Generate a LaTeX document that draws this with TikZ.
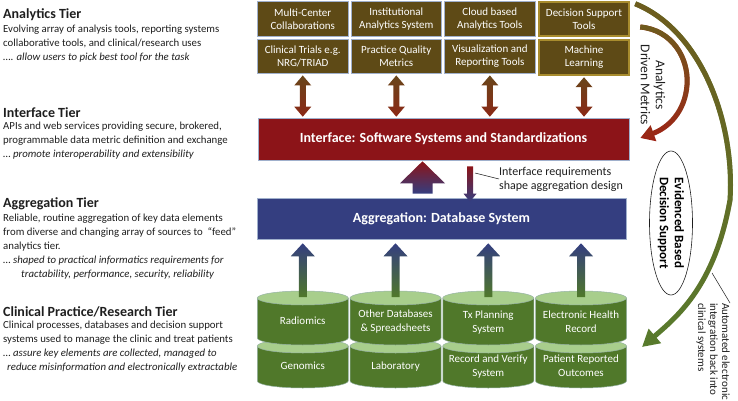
\documentclass[tikz,border=0pt]{standalone}
\usepackage{fontspec}
\setmainfont{Carlito}
\usetikzlibrary{positioning,calc,arrows.meta,shapes.geometric,fadings}

\definecolor{toolbrown}{RGB}{94,74,22}
\definecolor{toolline}{RGB}{160,176,204}
\definecolor{toolgold}{RGB}{168,140,46}
\definecolor{ifacered}{RGB}{140,20,24}
\definecolor{aggrblue}{RGB}{52,62,128}
\definecolor{cyldark}{RGB}{80,120,42}
\definecolor{cyllight}{RGB}{168,206,140}
\definecolor{cylline}{RGB}{150,178,165}
\definecolor{arrbrown}{RGB}{104,70,26}
\definecolor{arrred}{RGB}{140,40,22}
\definecolor{arcolive}{RGB}{110,92,30}
\definecolor{arcred}{RGB}{158,36,22}
\definecolor{arcgreen}{RGB}{88,124,46}
\definecolor{textgray}{RGB}{30,30,30}

\tikzset{
  tiertitle/.style={anchor=north west, inner sep=0pt, text=textgray,
    font=\fontsize{14}{16}\selectfont\bfseries},
  tiertext/.style={anchor=north west, inner sep=0pt, align=left, text=textgray,
    font=\fontsize{10.8}{14}\selectfont},
  toolbox/.style={draw=toolline, line width=0.8pt, fill=toolbrown, text=white,
    align=center, minimum width=90.5pt, minimum height=34.5pt, inner sep=1pt,
    font=\fontsize{11}{13}\selectfont},
  goldbox/.style={toolbox, draw=toolgold, line width=2pt},
  tierbar/.style={draw=toolline, line width=0.6pt, text=white,
    font=\fontsize{14}{16}\selectfont\bfseries},
  cylside/.style={fill=cyldark, draw=cylline, line width=0.5pt},
  cyltop/.style={fill=cyllight, draw=cylline, line width=0.5pt},
  cyltext/.style={text=white, align=center, font=\fontsize{11}{14}\selectfont},
  dblshade/.style={top color=arrbrown, bottom color=arrred},
  bigshade/.style={top color=ifacered, bottom color=aggrblue},
  cylshade/.style={top color=aggrblue, bottom color=cyldark},
  note/.style={inner sep=0pt, align=left, text=textgray, font=\fontsize{12}{14}\selectfont}
}

% block arrows: #1 tip/top, #2 base/tip, #3 half head, #4 half shaft, #5 head length, #6 shading
\newcommand{\blockup}[6]{%
  \shade[#6] let \p1=#1, \p2=#2 in
    (\x1,\y1) -- (\x1+#3,\y1-#5) -- (\x1+#4,\y1-#5) -- (\x1+#4,\y2)
    -- (\x1-#4,\y2) -- (\x1-#4,\y1-#5) -- (\x1-#3,\y1-#5) -- cycle;}
\newcommand{\blockdown}[6]{%
  \shade[#6] let \p1=#1, \p2=#2 in
    (\x2,\y2) -- (\x2+#3,\y2+#5) -- (\x2+#4,\y2+#5) -- (\x2+#4,\y1)
    -- (\x2-#4,\y1) -- (\x2-#4,\y2+#5) -- (\x2-#3,\y2+#5) -- cycle;}
\newcommand{\blockboth}[6]{%
  \shade[#6] let \p1=#1, \p2=#2 in
    (\x1,\y1) -- (\x1+#3,\y1-#5) -- (\x1+#4,\y1-#5) -- (\x1+#4,\y2+#5)
    -- (\x1+#3,\y2+#5) -- (\x1,\y2) -- (\x1-#3,\y2+#5) -- (\x1-#4,\y2+#5)
    -- (\x1-#4,\y1-#5) -- (\x1-#3,\y1-#5) -- cycle;}

\begin{document}
\begin{tikzpicture}[x=1pt,y=1pt]
\useasboundingbox (0,0) rectangle (738,-401);

% left column: the four tiers
\node[tiertitle] (antitle) at (3,-8) {Analytics Tier};
\node[tiertext] (antext) at ($(antitle.south west)+(0,-4)$)
  {Evolving array of analysis tools, reporting systems\\
   collaborative tools, and clinical/research uses\\
   …. \textit{allow users to pick best tool for the task}};

\node[tiertitle] (iftitle) at (3,-107) {Interface Tier};
\node[tiertext] (iftext) at ($(iftitle.south west)+(0,-4)$)
  {APIs and web services providing secure, brokered,\\
   programmable data metric definition and exchange\\
   … \textit{promote interoperability and extensibility}};

\node[tiertitle] (agtitle) at (3,-197) {Aggregation Tier};
\node[tiertext] (agtext) at ($(agtitle.south west)+(0,-4)$)
  {Reliable, routine aggregation of key data elements\\
   from diverse and changing array of sources to \ “feed”\\
   analytics tier.\\
   … \textit{shaped to practical informatics requirements for}\\
   \hspace*{18pt}\textit{tractability, performance, security, reliability}};

\node[tiertitle] (cltitle) at (3,-306) {Clinical Practice/Research Tier};
\node[tiertext] (cltext) at ($(cltitle.south west)+(0,-4)$)
  {Clinical processes, databases and decision support\\
   systems used to manage the clinic and treat patients\\
   … \textit{assure key elements are collected, managed to}\\
   \hspace*{4pt}\textit{reduce misinformation and electronically extractable}};

% analytics tools
\node[toolbox] (mcc) at (302.75,-19) {Multi-Center\\Collaborations};
\node[toolbox, right=2.25pt of mcc] (ias) {Institutional\\Analytics System};
\node[toolbox, right=2.25pt of ias] (cat) {Cloud based\\Analytics Tools};
\node[goldbox, right=2.25pt of cat] (dst) {Decision Support\\Tools};
\node[toolbox, below=2pt of mcc] (ctr) {Clinical Trials e.g.\\NRG/TRIAD};
\node[toolbox, below=2pt of ias] (pqm) {Practice Quality\\Metrics};
\node[toolbox, below=2pt of cat] (vrt) {Visualization and\\Reporting Tools};
\node[goldbox, below=2pt of dst] (ml) {Machine\\Learning};

% interface and aggregation bars
\node[tierbar, fill=ifacered, minimum width=371pt, minimum height=42pt]
  (iface) at (443.5,-139) {Interface: Software Systems and Standardizations};
\node[tierbar, fill=aggrblue, minimum width=369pt, minimum height=41pt]
  (aggr) at (441.5,-218.5) {Aggregation: Database System};

\foreach \tb in {ctr,pqm,vrt,ml}
  \blockboth{($(\tb.south)+(0,-1.5)$)}{($(iface.north -| \tb.south)+(0,1)$)}{8.5pt}{3pt}{10pt}{dblshade};

\blockup{($(iface.south)+(-21,-1)$)}{($(aggr.north)+(-19,4)$)}{22.5pt}{10pt}{22pt}{bigshade};
\blockdown{($(iface.south)+(26.5,-6)$)}{($(aggr.north)+(28.5,-4)$)}{6.5pt}{3pt}{8pt}{bigshade};
\coordinate (reqpt) at (475,-173);
\node[note, anchor=west] (req) at (499,-179) {Interface requirements\\shape aggregation design};
\draw[textgray, line width=0.5pt] (reqpt) -- (req.west);

% clinical data stores
\foreach \cx [count=\ci] in {302.75,395.5,488.25,581} {
  \path[cylside] (\cx-45.5,-346) -- (\cx-45.5,-381)
    arc[start angle=180, end angle=360, x radius=45.5, y radius=7] -- (\cx+45.5,-346) -- cycle;
  \path[cyltop] (\cx,-346) ellipse[x radius=45.5, y radius=7];
  \path[cylside] (\cx-45.5,-298) -- (\cx-45.5,-338)
    arc[start angle=180, end angle=360, x radius=45.5, y radius=7] -- (\cx+45.5,-298) -- cycle;
  \path[cyltop] (\cx,-298) ellipse[x radius=45.5, y radius=7];
  \coordinate (cyl\ci) at (\cx,-297);
}
\node[cyltext] (rad) at ($(cyl1)+(0,-24)$) {Radiomics};
\node[cyltext] (oth) at ($(cyl2)+(0,-25)$) {Other Databases\\\& Spreadsheets};
\node[cyltext] (txp) at ($(cyl3)+(0,-26)$) {Tx Planning\\System};
\node[cyltext] (ehr) at ($(cyl4)+(0,-25)$) {Electronic Health\\Record};
\node[cyltext] (gen) at ($(cyl1)+(0,-69)$) {Genomics};
\node[cyltext] (lab) at ($(cyl2)+(0,-70)$) {Laboratory};
\node[cyltext] (rvs) at ($(cyl3)+(0,-70)$) {Record and Verify\\System};
\node[cyltext] (pro) at ($(cyl4)+(0,-69)$) {Patient Reported\\Outcomes};

\foreach \ci in {1,...,4}
  \blockup{($(aggr.south -| cyl\ci)+(0,-4)$)}{(cyl\ci)}{12pt}{4pt}{13pt}{cylshade};

% feedback arcs on the right
\coordinate (innertip) at ($(iface.east)+(11,1)$);
\draw[line width=5pt, arcred, -{Triangle[length=14pt,width=16pt]}]
  ($(dst.east)+(10,-8)$) .. controls (672,-30) and (689,-58) .. (687,-85)
  .. controls (685,-112) and (668,-128) .. (innertip);
\draw[line width=5pt, arcolive, path fading=south, -{Triangle[length=14pt,width=16pt]}]
  ($(dst.east)+(10,-8)$) .. controls (672,-30) and (689,-58) .. (687,-85)
  .. controls (685,-112) and (668,-128) .. (innertip);
\node[rotate=-90, align=center, text=textgray, font=\fontsize{13.5}{15}\selectfont]
  (adm) at (653,-85) {Analytics\\Driven Metrics};

\coordinate (outertip) at (642,-347);
\draw[line width=5pt, arcgreen, -{Triangle[length=17pt,width=18pt]}]
  ($(dst.north east)+(5,-3)$) .. controls (700,-30) and (735,-120) .. (730,-200)
  .. controls (715,-285) and (678,-316) .. (outertip);
\draw[line width=5pt, arcolive, path fading=south, -{Triangle[length=17pt,width=18pt]}]
  ($(dst.north east)+(5,-3)$) .. controls (700,-30) and (735,-120) .. (730,-200)
  .. controls (715,-285) and (678,-316) .. (outertip);

\node[draw=textgray, line width=0.6pt, ellipse, rotate=-90, align=center, inner sep=0pt,
  minimum width=144pt, minimum height=43pt, text=black,
  font=\fontsize{13}{15}\selectfont\bfseries] (ebds) at (671,-223) {Evidenced Based\\Decision Support};

\node[note, rotate=-90, anchor=north west, font=\fontsize{11}{12}\selectfont]
  (autoint) at (730,-303) {Automated electronic\\integration back into\\clinical systems};
\coordinate (arcpt) at (712,-273);
\draw[textgray, line width=0.5pt] (autoint.north west) -- (arcpt);

\end{tikzpicture}
\end{document}
